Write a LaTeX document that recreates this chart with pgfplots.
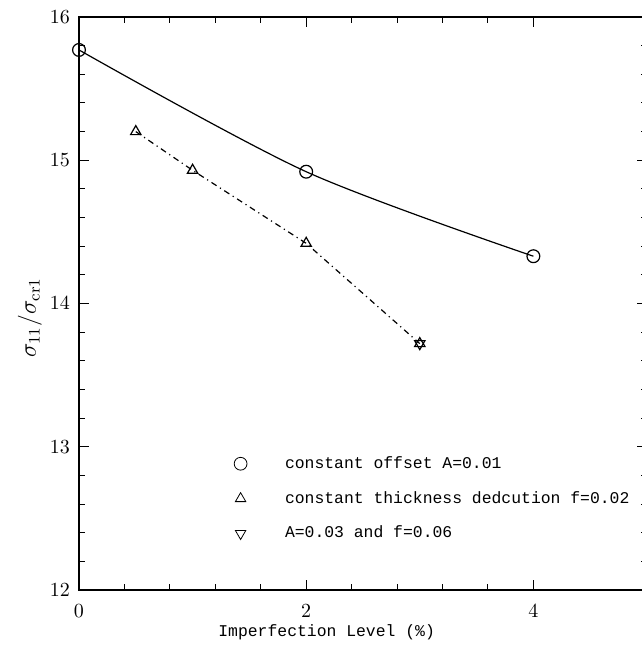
\documentclass[border=0pt]{standalone}
\usepackage{pgfplots}
\pgfplotsset{compat=1.18}
\usepackage{fontspec}
\newfontfamily\mono{Liberation Mono}
\usetikzlibrary{calc}
\begin{document}
\begin{tikzpicture}
\begin{axis}[
  scale only axis, width=284pt, height=286.5pt,
  xmin=0, xmax=5, ymin=12, ymax=16,
  xtick={0,2,4}, ytick={12,13,14,15,16},
  minor x tick num=4, minor y tick num=4,
  tick align=inside, major tick length=5pt, minor tick length=3pt,
  every tick/.style={black, line width=0.5pt},
  axis line style={line width=0.6pt},
  xticklabel style={yshift=-4pt},
  yticklabel style={xshift=-1pt},
  xlabel={\mono\fontsize{8.2}{10}\selectfont Imperfection Level (\%)},
  xlabel style={at={(rel axis cs:0.436,0)}, anchor=center, yshift=-21pt},
  ylabel={\large$\sigma_{11}/\sigma_{\mathrm{cr1}}$},
  ylabel style={at={(rel axis cs:0,0.475)}, anchor=center, yshift=24.5pt},
  legend style={at={(rel axis cs:0.262,0.248)}, anchor=north west, draw=none, fill=none,
    font=\mono\fontsize{8.2}{10}\selectfont, row sep=6pt,
    /tikz/every odd column/.append style={column sep=17pt}},
  legend cell align=left,
  legend image code/.code={\draw[#1] plot coordinates {(0pt,0pt)};},
]
\coordinate (sw) at (rel axis cs:0,0);
\addplot[forget plot, black, line width=0.6pt, smooth, mark=o, mark size=3.2pt]
  coordinates {(0,15.77) (2,14.92) (4,14.33)};
\addplot[forget plot, black, line width=0.6pt, dash dot, mark=triangle, mark size=3pt,
  mark options={solid}]
  coordinates {(0.5,15.2) (1,14.93) (2,14.42) (3,13.72)};
\addplot[forget plot, black, line width=0.6pt, only marks, mark=triangle, mark size=3pt,
  mark options={rotate=180}]
  coordinates {(3,13.72)};
\addlegendimage{only marks, black, mark=o, mark size=3.2pt}
\addlegendentry{constant offset A=0.01}
\addlegendimage{only marks, black, mark=triangle, mark size=3pt}
\addlegendentry{constant thickness dedcution f=0.02}
\addlegendimage{only marks, black, mark=triangle, mark size=3pt, mark options={rotate=180}}
\addlegendentry{A=0.03 and f=0.06}
\end{axis}
\pgfresetboundingbox
\path[use as bounding box] ($(sw)+(-39.5pt,-30pt)$) rectangle ($(sw)+(281.5pt,295pt)$);
\end{tikzpicture}
\end{document}
